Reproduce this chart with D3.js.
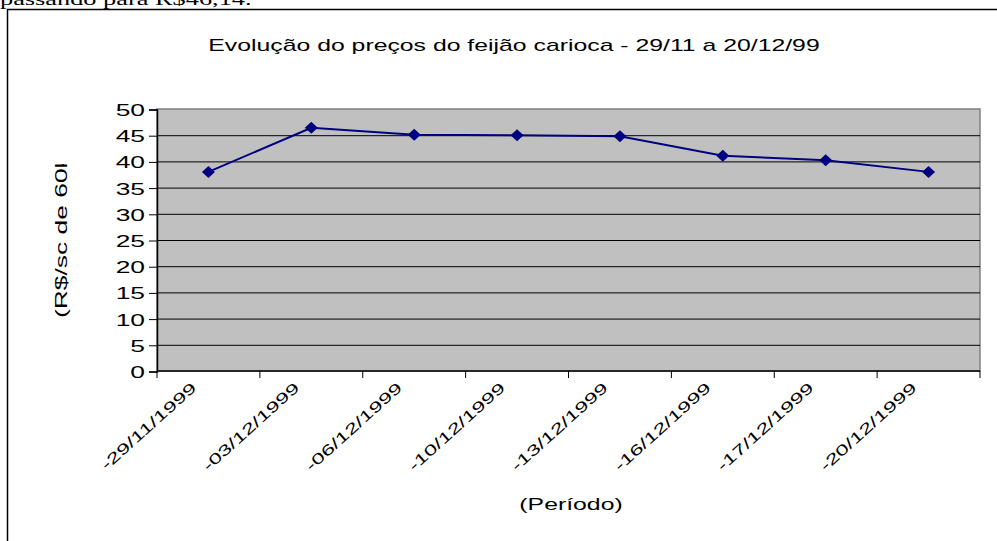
<!DOCTYPE html>
<html>
<head>
<meta charset="utf-8">
<script src="https://cdn.jsdelivr.net/npm/d3@7"></script>
<style>
  body { margin: 0; background: white; overflow: hidden; }
  text { font-family: Arial, "Liberation Sans", sans-serif; fill: black; }
</style>
</head>
<body>
<script>
//Data
var categories = ["29/11/1999", "03/12/1999", "06/12/1999", "10/12/1999",
                  "13/12/1999", "16/12/1999", "17/12/1999", "20/12/1999"];
var prices = [38.0, 46.4, 45.1, 45.0, 44.8, 41.1, 40.2, 38.0];
var yTicks = [0, 5, 10, 15, 20, 25, 30, 35, 40, 45, 50];

var titleText = "Evolução do preços do feijão carioca - 29/11 a 20/12/99";
var yTitle = "(R$/sc de 60kg)";
var xTitle = "(Período)";
var pageText = "passando para R$46,14.";

//Parameters
var w = 997;
var h = 541;
var plot = {left: 157, right: 980, top: 109, bottom: 371};
var stretch = 1.55;          // the text in the picture is wide
var plotFill = "#c0c0c0";
var frameColor = "#808080";
var lineColor = "#000080";

var svg = d3.select("body").append("svg")
    .attr("width", w)
    .attr("height", h);

var defs = svg.append("defs");
defs.append("clipPath").attr("id", "xlabClip")
  .append("rect").attr("x", 0).attr("y", 384).attr("width", w).attr("height", h);
defs.append("clipPath").attr("id", "ytitleClip")
  .append("rect").attr("x", 0).attr("y", 164).attr("width", 150).attr("height", h);

//Text of the page above the chart, cut by the picture
svg.append("text")
    .attr("transform", "translate(0,5) scale(" + stretch + ",1)")
    .style("font-family", "'Times New Roman', 'Liberation Serif', serif")
    .style("font-size", "17px")
    .text(pageText);

//Chart border (left and top only visible)
svg.append("path")
    .attr("d", "M7.5," + h + "V9.5H" + w)
    .attr("fill", "none")
    .attr("stroke", "black")
    .attr("stroke-width", 1.5);

//Scales
var x = d3.scaleBand()
    .domain(categories)
    .range([plot.left, plot.right])
    .padding(0);

var y = d3.scaleLinear()
    .domain([0, 50])
    .range([plot.bottom, plot.top]);

//Plot area
svg.append("rect")
    .attr("x", plot.left)
    .attr("y", plot.top)
    .attr("width", plot.right - plot.left)
    .attr("height", plot.bottom - plot.top)
    .attr("fill", plotFill)
    .attr("stroke", frameColor)
    .attr("stroke-width", 1.5);

//Gridlines
svg.append("g").selectAll("line")
    .data(yTicks.filter(function (d) { return d > 0 && d < 50; }))
    .enter().append("line")
    .attr("x1", plot.left)
    .attr("x2", plot.right)
    .attr("y1", function (d) { return y(d) + 0.5; })
    .attr("y2", function (d) { return y(d) + 0.5; })
    .attr("stroke", "black")
    .attr("stroke-width", 1);

//Y axis
var yAxis = svg.append("g")
    .attr("transform", "translate(" + plot.left + ",0.5)")
    .call(d3.axisLeft(y).tickValues(yTicks).tickSize(8).tickPadding(4));
yAxis.select(".domain").attr("stroke", "black").attr("stroke-width", 1.5);
yAxis.selectAll(".tick line").attr("stroke", "black");
yAxis.selectAll(".tick text")
    .attr("x", null)
    .attr("dy", null)
    .attr("transform", "translate(-12,6) scale(1.65,1)")
    .style("font-size", "16px");

//X axis line and ticks at category edges
var edges = categories.map(function (d) { return x(d); }).concat([plot.right]);
svg.append("line")
    .attr("x1", plot.left).attr("x2", plot.right)
    .attr("y1", plot.bottom).attr("y2", plot.bottom)
    .attr("stroke", "black").attr("stroke-width", 1.5);
svg.append("g").selectAll("line")
    .data(edges)
    .enter().append("line")
    .attr("x1", function (d) { return d; })
    .attr("x2", function (d) { return d; })
    .attr("y1", plot.bottom)
    .attr("y2", plot.bottom + 7)
    .attr("stroke", "black");

//X labels
svg.append("g")
    .attr("clip-path", "url(#xlabClip)")
    .selectAll("text")
    .data(categories)
    .enter().append("text")
    .attr("text-anchor", "end")
    .attr("transform", function (d) {
        var cx = x(d) + x.bandwidth() / 2 - 11;
        return "translate(" + cx + ",389) rotate(-42) scale(" + stretch + ",1)";
    })
    .style("font-size", "15px")
    .text(function (d) { return "-" + d; });

//Series line
var line = d3.line()
    .x(function (d, i) { return x(categories[i]) + x.bandwidth() / 2; })
    .y(function (d) { return y(d); });

svg.append("path")
    .attr("d", line(prices))
    .attr("fill", "none")
    .attr("stroke", lineColor)
    .attr("stroke-width", 2);

//Diamond markers
svg.append("g").selectAll("path")
    .data(prices)
    .enter().append("path")
    .attr("d", "M0,-6L6.5,0L0,6L-6.5,0Z")
    .attr("transform", function (d, i) {
        return "translate(" + (x(categories[i]) + x.bandwidth() / 2) + "," + y(d) + ")";
    })
    .attr("fill", lineColor);

//Titles
svg.append("text")
    .attr("text-anchor", "middle")
    .attr("transform", "translate(514,51) scale(" + stretch + ",1)")
    .style("font-size", "16px")
    .text(titleText);

svg.append("text")
    .attr("text-anchor", "middle")
    .attr("transform", "translate(571,510) scale(" + stretch + ",1)")
    .style("font-size", "16px")
    .text(xTitle);

svg.append("g")
    .attr("clip-path", "url(#ytitleClip)")
  .append("text")
    .attr("transform", "translate(67,318) rotate(-90) scale(1.65,1)")
    .style("font-size", "16px")
    .text(yTitle);
</script>
</body>
</html>
